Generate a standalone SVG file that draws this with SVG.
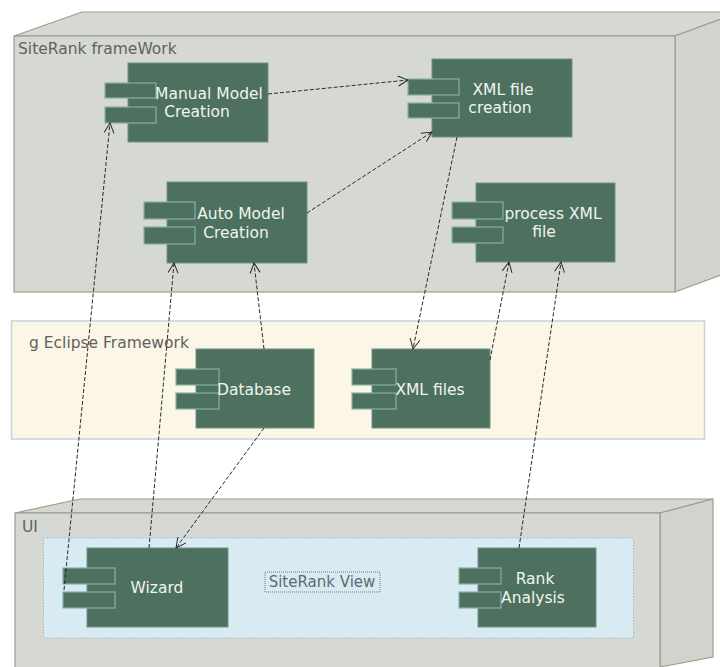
<svg xmlns="http://www.w3.org/2000/svg" width="720" height="667" viewBox="0 0 720 667">
<defs>
<style>
.box{fill:#d6d9d3;stroke:#9c9e8a;stroke-width:1.2}
.side{fill:#d1d4ce;stroke:#9c9e8a;stroke-width:1.2}
.comp{fill:#4d705f;stroke:#6f9487;stroke-width:1}
.port{fill:#4d705f;stroke:#86b0a8;stroke-width:1.2}
.ct{font-family:"DejaVu Sans",Verdana,sans-serif;font-size:15.5px;fill:#f0f5f0;text-anchor:middle}
.lbl{font-family:"DejaVu Sans",Verdana,sans-serif;font-size:15.5px;fill:#5f625c}
.conn{fill:none;stroke:#2a2a2a;stroke-width:1;stroke-dasharray:4,2}
</style>
<marker id="arr" viewBox="0 0 12 12" refX="11" refY="6" markerWidth="12" markerHeight="12" markerUnits="userSpaceOnUse" orient="auto">
<path d="M1,1 L11,6 L1,11" fill="none" stroke="#2a2a2a" stroke-width="1"/>
</marker>
</defs>
<rect width="720" height="667" fill="#ffffff"/>

<g id="siterank-framework">
<polygon class="box" points="14,36 82,12 740,12 675,36"/>
<polygon class="side" points="675,36 740,12 740,268 675,292"/>
<rect class="box" x="14" y="36" width="661" height="256"/>
<text class="lbl" x="18" y="54">SiteRank frameWork</text>
</g>

<g id="eclipse-framework">
<rect x="11.5" y="321" width="693" height="118" fill="#fbf6e6" stroke="#c9d2d6" stroke-width="1.5"/>
<text class="lbl" x="29" y="348">g Eclipse Framework</text>
</g>

<g id="ui-container">
<polygon class="box" points="15,513 80,499 713,499 660,513"/>
<polygon class="side" points="660,513 713,499 713,657 660,667"/>
<rect class="box" x="15" y="513" width="645" height="160"/>
<text class="lbl" x="22" y="532">UI</text>
</g>

<g id="siterank-view">
<rect x="43.5" y="538" width="590" height="100" fill="#d8ebf3" stroke="#a9b8bd" stroke-width="1" stroke-dasharray="1.5,1.5"/>
<rect x="265" y="572" width="115" height="20" fill="none" stroke="#777" stroke-width="1" stroke-dasharray="1,1"/>
<text x="322" y="587" font-family="'DejaVu Sans',Verdana,sans-serif" font-size="15" fill="#5f6a70" text-anchor="middle">SiteRank View</text>
</g>

<g id="manual-model-creation">
<rect class="comp" x="128" y="63" width="140" height="79"/>
<rect class="port" x="105" y="83" width="51" height="15"/>
<rect class="port" x="105" y="107" width="51" height="16"/>
<text class="ct" x="209" y="99">Manual Model</text>
<text class="ct" x="197" y="117">Creation</text>
</g>

<g id="xml-file-creation">
<rect class="comp" x="432" y="59" width="140" height="78"/>
<rect class="port" x="408" y="79" width="51" height="16"/>
<rect class="port" x="408" y="103" width="51" height="15"/>
<text class="ct" x="503" y="95">XML file</text>
<text class="ct" x="500" y="113">creation</text>
</g>

<g id="auto-model-creation">
<rect class="comp" x="167" y="182" width="140" height="81"/>
<rect class="port" x="144" y="202" width="51" height="17"/>
<rect class="port" x="144" y="227" width="51" height="17"/>
<text class="ct" x="241" y="219">Auto Model</text>
<text class="ct" x="236" y="238">Creation</text>
</g>

<g id="process-xml-file">
<rect class="comp" x="476" y="183" width="139" height="79"/>
<rect class="port" x="452" y="202" width="51" height="17"/>
<rect class="port" x="452" y="227" width="51" height="16"/>
<text class="ct" x="553" y="219">process XML</text>
<text class="ct" x="544" y="237">file</text>
</g>

<g id="database">
<rect class="comp" x="196" y="349" width="118" height="79"/>
<rect class="port" x="176" y="369" width="43" height="16"/>
<rect class="port" x="176" y="393" width="43" height="16"/>
<text class="ct" x="254" y="395">Database</text>
</g>

<g id="xml-files">
<rect class="comp" x="372" y="349" width="118" height="79"/>
<rect class="port" x="352" y="369" width="44" height="16"/>
<rect class="port" x="352" y="393" width="44" height="16"/>
<text class="ct" x="430" y="395">XML files</text>
</g>

<g id="wizard">
<rect class="comp" x="87" y="548" width="141" height="79"/>
<rect class="port" x="63" y="568" width="52" height="16"/>
<rect class="port" x="63" y="592" width="52" height="16"/>
<text class="ct" x="157" y="593">Wizard</text>
</g>

<g id="rank-analysis">
<rect class="comp" x="478" y="548" width="118" height="79"/>
<rect class="port" x="459" y="568" width="42" height="16"/>
<rect class="port" x="459" y="592" width="42" height="16"/>
<text class="ct" x="535" y="584">Rank</text>
<text class="ct" x="533" y="603">Analysis</text>
</g>

<g id="connectors">
<line class="conn" x1="268" y1="94" x2="408" y2="80" marker-end="url(#arr)"/>
<line class="conn" x1="307" y1="213" x2="432" y2="132" marker-end="url(#arr)"/>
<line class="conn" x1="64" y1="590" x2="110" y2="123" marker-end="url(#arr)"/>
<line class="conn" x1="149" y1="548" x2="174" y2="263" marker-end="url(#arr)"/>
<line class="conn" x1="264" y1="349" x2="254" y2="263" marker-end="url(#arr)"/>
<line class="conn" x1="264" y1="428" x2="176" y2="548" marker-end="url(#arr)"/>
<line class="conn" x1="457" y1="137" x2="413" y2="349" marker-end="url(#arr)"/>
<line class="conn" x1="490" y1="360" x2="509" y2="262" marker-end="url(#arr)"/>
<line class="conn" x1="519" y1="548" x2="561" y2="262" marker-end="url(#arr)"/>
</g>
</svg>
